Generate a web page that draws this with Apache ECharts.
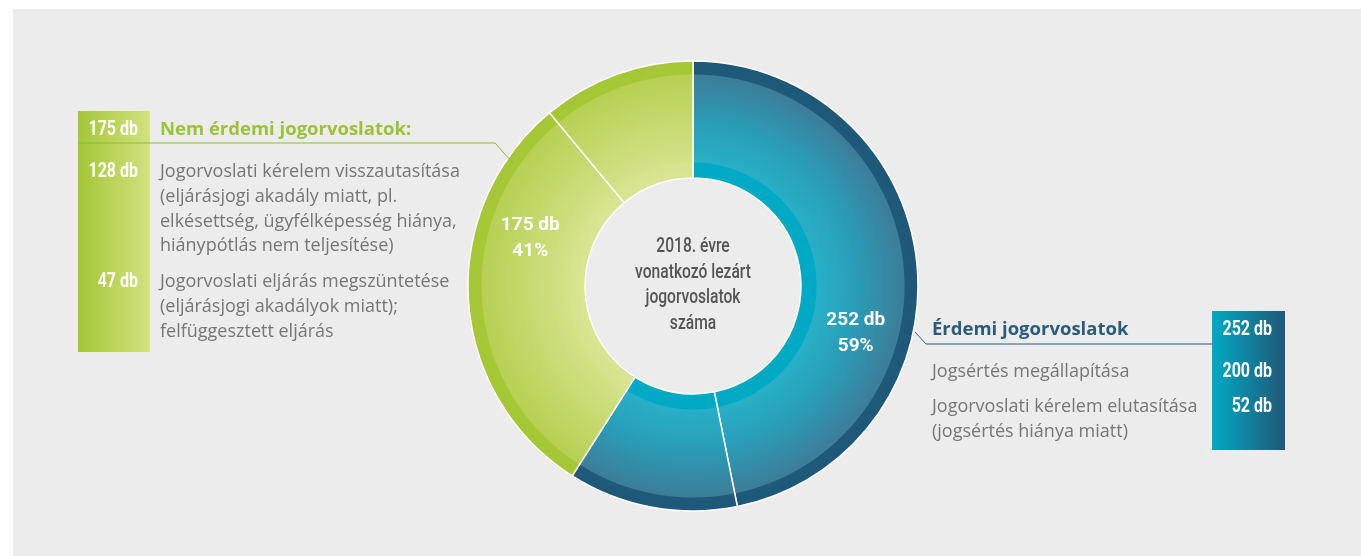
<!DOCTYPE html>
<html>
<head>
<meta charset="utf-8">
<script src="https://cdn.jsdelivr.net/npm/echarts@6/dist/echarts.min.js"></script>
<style>
  html, body { margin: 0; padding: 0; background: #fff; }
  #chart { width: 1361px; height: 556px; }
</style>
</head>
<body>
<div id="chart"></div>
<script>
// adatok
const categories = ['Jogsértés megállapítása', 'Jogorvoslati kérelem elutasítása', 'Jogorvoslati kérelem visszautasítása', 'Jogorvoslati eljárás megszüntetése']
const values = [200, 52, 128, 47]
const groupOf = [0, 0, 1, 1]
const groupNames = ['Érdemi jogorvoslatok', 'Nem érdemi jogorvoslatok:']
const groupValues = [252, 175]
const centerLines = ['2018. évre', 'vonatkozó lezárt', 'jogorvoslatok', 'száma']
const leftLines = [
  ['Jogorvoslati kérelem visszautasítása', '(eljárásjogi akadály miatt, pl.', 'elkésettség, ügyfélképesség hiánya,', 'hiánypótlás nem teljesítése)'],
  ['Jogorvoslati eljárás megszüntetése', '(eljárásjogi akadályok miatt);', 'felfüggesztett eljárás']
]
const rightLines = [
  ['Jogsértés megállapítása'],
  ['Jogorvoslati kérelem elutasítása', '(jogsértés hiánya miatt)']
]

const cx = 693, cy = 286
const rHole = 108, rOuter = 225

const narrow = "Roboto, sans-serif"
const body = "'Open Sans', 'Noto Sans', sans-serif"

function ring(stops) {
  return {
    type: 'radial', x: cx, y: cy, r: rOuter, global: true,
    colorStops: stops
  }
}
const h = rHole / rOuter
const blueFill = ring([
  { offset: 0, color: '#00a9c4' },
  { offset: h, color: '#00a9c4' },
  { offset: 123 / 225, color: '#00a9c4' },
  { offset: 124 / 225, color: '#28afc7' },
  { offset: 0.72, color: '#2a9eb8' },
  { offset: 211 / 225, color: '#3d7d98' },
  { offset: 212 / 225, color: '#1f5a7a' },
  { offset: 1, color: '#1e5878' }
])
const greenFill = ring([
  { offset: 0, color: '#d9e592' },
  { offset: h, color: '#d9e592' },
  { offset: 124 / 225, color: '#d6e38d' },
  { offset: 125 / 225, color: '#d4e189' },
  { offset: 211 / 225, color: '#b6d053' },
  { offset: 212 / 225, color: '#a6c836' },
  { offset: 1, color: '#a5c735' }
])
const fills = [blueFill, greenFill]

const myChart = echarts.init(document.getElementById('chart'))

// szöveg segédfüggvény (szűkített betűkhöz scaleX)
function txt(text, x, y, font, fill, align, sx) {
  return {
    type: 'text', z: 6, x: x, y: y, scaleX: sx || 1,
    style: { text: text, x: 0, y: 0, align: align, verticalAlign: 'middle', font: font, fill: fill }
  }
}

const graphics = []
// szürke háttér
graphics.push({ type: 'rect', z: -10, shape: { x: 13, y: 9, width: 1361 - 13, height: 556 - 9 }, style: { fill: '#ececec' } })

// bal oldali doboz
graphics.push({
  type: 'rect', shape: { x: 78, y: 111, width: 72, height: 241 },
  style: { fill: new echarts.graphic.LinearGradient(0, 0, 1, 0, [{ offset: 0, color: '#a3c637' }, { offset: 1, color: '#d3e17f' }]) }
})
graphics.push({ type: 'polyline', shape: { points: [[513, 163], [495, 143], [78, 143]] }, style: { stroke: '#8fb83a', lineWidth: 1, fill: null }, z: 5 })
graphics.push(txt(groupValues[1] + ' db', 138, 130, 'bold 20px ' + narrow, '#fff', 'right', 0.8))
graphics.push(txt(groupNames[1], 160, 130, 'bold 18.5px ' + body, '#9cc23a', 'left'))
const leftY = [172, 282]
;[2, 3].forEach((idx, k) => {
  graphics.push(txt(values[idx] + ' db', 138, leftY[k], 'bold 20px ' + narrow, '#fff', 'right', 0.8))
  leftLines[k].forEach((ln, i) => {
    graphics.push(txt(ln, 160, leftY[k] + i * 24.7, '18px ' + body, '#767676', 'left'))
  })
})

// jobb oldali doboz
graphics.push({
  type: 'rect', shape: { x: 1212, y: 311, width: 73, height: 139 },
  style: { fill: new echarts.graphic.LinearGradient(0, 0, 1, 0, [{ offset: 0, color: '#00aac5' }, { offset: 1, color: '#215878' }]) }
})
graphics.push({ type: 'polyline', shape: { points: [[915, 332], [926, 344], [1212, 344]] }, style: { stroke: '#2d5f7e', lineWidth: 1, fill: null }, z: 5 })
graphics.push(txt(groupValues[0] + ' db', 1272, 330, 'bold 20px ' + narrow, '#fff', 'right', 0.8))
graphics.push(txt(groupNames[0], 932, 330, 'bold 18.5px ' + body, '#2b5c7b', 'left'))
const rightY = [372, 407]
;[0, 1].forEach((idx, k) => {
  graphics.push(txt(values[idx] + ' db', 1272, rightY[k], 'bold 20px ' + narrow, '#fff', 'right', 0.8))
  rightLines[k].forEach((ln, i) => {
    graphics.push(txt(ln, 932, rightY[k] + i * 24.7, '18px ' + body, '#767676', 'left'))
  })
})

// középső szöveg
centerLines.forEach((ln, i) => {
  graphics.push(txt(ln, cx, cy - 39 + i * 25.5, '500 20px ' + narrow, '#555', 'center', 0.78))
})

const option = {
  backgroundColor: 'transparent',
  animation: false,
  graphic: graphics,
  series: [
    {
      type: 'pie',
      center: [cx, cy],
      radius: [rHole, rOuter],
      startAngle: 90,
      clockwise: true,
      avoidLabelOverlap: false,
      label: { show: false },
      labelLine: { show: false },
      silent: true,
      itemStyle: { borderColor: '#fff', borderWidth: 1.5 },
      data: values.map((v, i) => ({ name: categories[i], value: v, itemStyle: { color: fills[groupOf[i]] } }))
    },
    {
      type: 'pie',
      center: [cx, cy],
      radius: [rHole, rOuter],
      startAngle: 90,
      clockwise: true,
      silent: true,
      z: 3,
      itemStyle: { color: 'transparent', borderWidth: 0 },
      label: {
        show: true,
        position: 'inside',
        color: '#fff',
        fontFamily: narrow,
        fontWeight: 'bold',
        fontSize: 19,
        lineHeight: 26,
        formatter: p => p.value + ' db\n' + Math.round(p.percent) + '%'
      },
      labelLine: { show: false },
      data: groupValues.map((v, i) => ({ name: groupNames[i], value: v }))
    }
  ]
}

option && myChart.setOption(option)
</script>
</body>
</html>
